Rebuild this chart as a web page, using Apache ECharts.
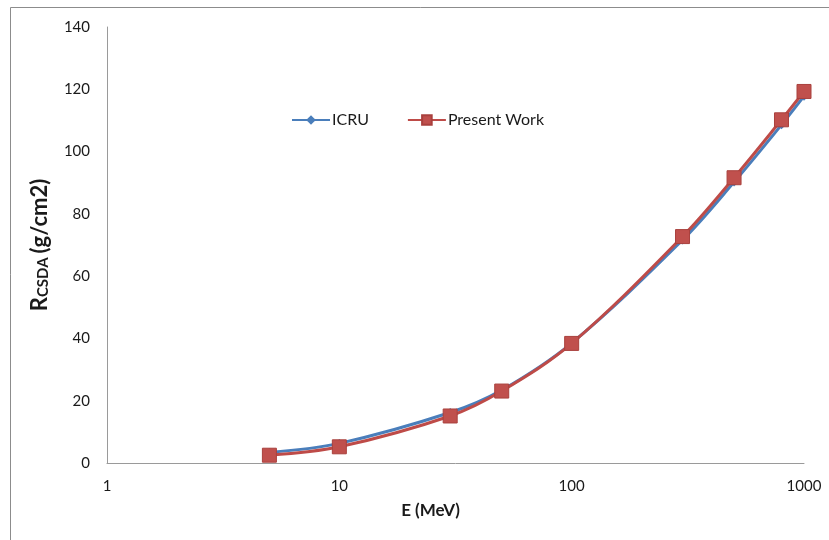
<!DOCTYPE html>
<html>
<head>
<meta charset="utf-8">
<script src="https://cdn.jsdelivr.net/npm/echarts@6/dist/echarts.min.js"></script>
<style>
  html, body { margin: 0; padding: 0; background: #fff; }
  #chart { width: 829px; height: 540px; }
</style>
</head>
<body>
<div id="chart"></div>
<script>
// Proton energies (MeV) and CSDA ranges (g/cm2)
const energies = [5, 10, 30, 50, 100, 300, 500, 800, 1000];
const icruRange = [3.4, 6.3, 16.2, 23.4, 38.5, 71.6, 90.2, 108.6, 117.8];
const presentRange = [2.5, 5.2, 15.1, 23.1, 38.4, 72.7, 91.6, 110.2, 119.3];
const xTicks = [1, 10, 100, 1000];
const yTicks = [0, 20, 40, 60, 80, 100, 120, 140];

const pairs = (xs, ys) => xs.map((x, i) => [x, ys[i]]);
const FONT = 'Lato';

const chart = echarts.init(document.getElementById('chart'));
chart.setOption({
  animation: false,
  backgroundColor: '#ffffff',
  textStyle: { fontFamily: FONT },
  graphic: [{
    type: 'rect',
    shape: { x: 10.5, y: 7.5, width: 900, height: 600 },
    style: { fill: 'none', stroke: '#8c8c8c', lineWidth: 1 },
    silent: true
  }],
  grid: { left: 107, right: 25, top: 27, bottom: 77 },
  legend: {
    left: 286, top: 107,
    itemWidth: 38, itemHeight: 12, itemGap: 38,
    textStyle: { fontFamily: FONT, fontSize: 16, color: '#1a1a1a', padding: [0, 0, 0, -3] },
    data: ['ICRU', 'Present Work']
  },
  xAxis: {
    type: 'log', logBase: 10, min: 1, max: 1000,
    name: 'E (MeV)', nameLocation: 'middle', nameGap: 39,
    nameTextStyle: { fontFamily: FONT, fontSize: 17, fontWeight: 'bold', color: '#1a1a1a', padding: [0, 50, 0, 0] },
    axisLine: { lineStyle: { color: '#9a9a9a', width: 1 } },
    axisTick: { show: false },
    splitLine: { show: false },
    minorTick: { show: false },
    axisLabel: {
      fontFamily: FONT, fontSize: 15, color: '#1a1a1a', margin: 16,
      formatter: v => (xTicks.includes(v) ? String(v) : '')
    }
  },
  yAxis: {
    type: 'value', min: yTicks[0], max: yTicks[yTicks.length - 1], interval: 20,
    name: '{r|R}{s|CSDA}{r|(g/cm2)}', nameLocation: 'middle', nameGap: 56,
    nameTextStyle: {
      rich: {
        r: { fontFamily: FONT, fontSize: 22, fontWeight: 'bold', color: '#1a1a1a' },
        s: { fontFamily: FONT, fontSize: 15, fontWeight: 'bold', color: '#1a1a1a', verticalAlign: 'bottom', padding: [8, 4, 0, 0] }
      }
    },
    axisLine: { show: true, lineStyle: { color: '#9a9a9a', width: 1 } },
    axisTick: { show: false },
    splitLine: { show: false },
    axisLabel: { fontFamily: FONT, fontSize: 15, color: '#1a1a1a', margin: 17 }
  },
  series: [
    {
      name: 'ICRU', type: 'line', smooth: 0.35,
      data: pairs(energies, icruRange),
      symbol: 'diamond', symbolSize: 9,
      lineStyle: { color: '#4a7ebb', width: 3 },
      itemStyle: { color: '#4a7ebb' },
      z: 2
    },
    {
      name: 'Present Work', type: 'line', smooth: 0.35,
      data: pairs(energies, presentRange),
      symbol: 'rect', symbolSize: 14,
      lineStyle: { color: '#be4b48', width: 3 },
      itemStyle: { color: '#c0504d', borderColor: '#a9403d', borderWidth: 1 },
      z: 3
    }
  ]
});
</script>
</body>
</html>
